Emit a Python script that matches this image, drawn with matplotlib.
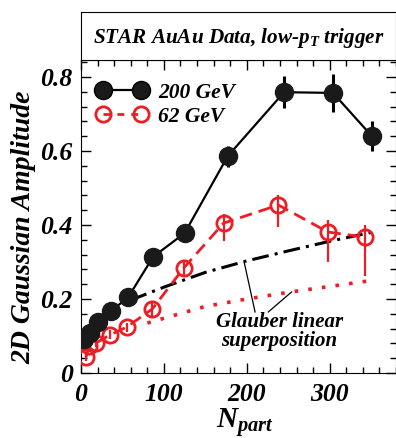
import numpy as np
import matplotlib
matplotlib.use("Agg")
import matplotlib.pyplot as plt
from matplotlib.ticker import MultipleLocator, FuncFormatter
from matplotlib.lines import Line2D

plt.rcParams['font.family'] = 'Liberation Serif'
plt.rcParams['font.weight'] = 'bold'
plt.rcParams['font.style'] = 'italic'
plt.rcParams['mathtext.fontset'] = 'custom'
plt.rcParams['mathtext.it'] = 'Liberation Serif:bold:italic'
plt.rcParams['mathtext.rm'] = 'Liberation Serif:bold:italic'

# 200 GeV data
npart_200 = [4, 11, 20, 36, 57, 87, 125, 177, 245, 304, 351]
amp_200 = [0.092, 0.108, 0.138, 0.167, 0.205, 0.314, 0.378, 0.586, 0.759, 0.757, 0.64]
err_200 = [0.008, 0.008, 0.01, 0.01, 0.012, 0.02, 0.022, 0.028, 0.044, 0.052, 0.041]

# 62 GeV data (asymmetric errors)
npart_62 = [6, 10, 18, 35, 55, 86, 124, 172, 238, 298, 343]
amp_62 = [0.043, 0.073, 0.081, 0.103, 0.124, 0.173, 0.284, 0.405, 0.454, 0.381, 0.367]
err_62_lo = [0.01, 0.01, 0.01, 0.012, 0.012, 0.02, 0.022, 0.047, 0.059, 0.081, 0.105]
err_62_hi = [0.01, 0.01, 0.01, 0.012, 0.012, 0.02, 0.02, 0.025, 0.027, 0.032, 0.032]

# Glauber linear superposition curves
glauber_200_n = [60, 100, 150, 200, 250, 300, 350]
glauber_200_a = [0.197, 0.232, 0.272, 0.303, 0.33, 0.356, 0.38]
glauber_62_n = [80, 150, 200, 250, 300, 350]
glauber_62_a = [0.135, 0.18, 0.2, 0.218, 0.234, 0.25]

W, H = 396, 438
fig = plt.figure(figsize=(W / 100, H / 100), dpi=100)
ax = fig.add_axes([81 / W, (H - 373) / H, (W - 81) / W, 313 / H])

red = '#ee1c24'
ax.plot(glauber_200_n, glauber_200_a, color='black', lw=2.2, dashes=(5.5, 2, 1, 2), zorder=2)
ax.plot(glauber_62_n, glauber_62_a, color=red, lw=2.6, dashes=(1, 2.8), zorder=2)

ax.errorbar(npart_62, amp_62, yerr=[err_62_lo, err_62_hi], color=red, lw=2, dashes=(4.5, 2.5),
            marker='o', ms=11, mfc='none', mew=2, elinewidth=1.6, capsize=0, zorder=3)
ax.errorbar(npart_200, amp_200, yerr=err_200, color='black', lw=1.6, marker='o', ms=13,
            mfc='#1a1a1a', mec='#1a1a1a', elinewidth=2.2, capsize=0, zorder=4)

# annotation
ax.plot([197, 210], [0.298, 0.165], color='black', lw=0.9)
ax.plot([254, 226], [0.219, 0.165], color='black', lw=0.9)
ax.text(239, 0.112, 'Glauber linear\nsuperposition', ha='center', va='center',
        multialignment='center', linespacing=0.95, fontsize=15)

ax.set_xlim(0, 380)
ax.set_ylim(0, 0.846)
ax.xaxis.set_major_locator(MultipleLocator(100))
ax.xaxis.set_minor_locator(MultipleLocator(20))
ax.yaxis.set_major_locator(MultipleLocator(0.2))
ax.yaxis.set_minor_locator(MultipleLocator(0.04))
ax.yaxis.set_major_formatter(FuncFormatter(lambda v, p: '0' if abs(v) < 1e-9 else f'{v:.1f}'))
ax.tick_params(which='both', direction='in', top=True, right=True, labelsize=18.5, width=1)
ax.tick_params(which='major', length=7)
ax.tick_params(which='minor', length=4)
ax.tick_params(axis='x', pad=7)
ax.tick_params(axis='y', pad=6)

ax.text(-0.181, 0.467, '2D Gaussian Amplitude', rotation=90, ha='center', va='center',
        fontsize=20, transform=ax.transAxes)
ax.text(0.52, -0.176, '$N_{part}$', ha='center', va='baseline', fontsize=21,
        transform=ax.transAxes)

handles = [Line2D([], [], color='black', lw=1.6, marker='o', ms=13, mfc='#1a1a1a'),
           Line2D([], [], color=red, lw=2, dashes=(2.5, 2.5), marker='o', ms=11, mfc='none', mew=2)]
ax.legend(handles, ['200 GeV', '62 GeV'], loc='upper left', frameon=False, numpoints=2,
          fontsize=15.5, handlelength=2.4, handletextpad=0.5, labelspacing=0.2,
          bbox_to_anchor=(0.0, 0.976), borderaxespad=0.3)

# title box
tax = fig.add_axes([81 / W, (H - 60) / H, (W - 81) / W, 48 / H])
tax.set_xticks([])
tax.set_yticks([])
tax.text(0.038, 0.354, 'STAR AuAu Data, low-$p_T$ trigger', ha='left', va='baseline',
         fontsize=15.2, transform=tax.transAxes)

fig.savefig('out.png', dpi=100)
